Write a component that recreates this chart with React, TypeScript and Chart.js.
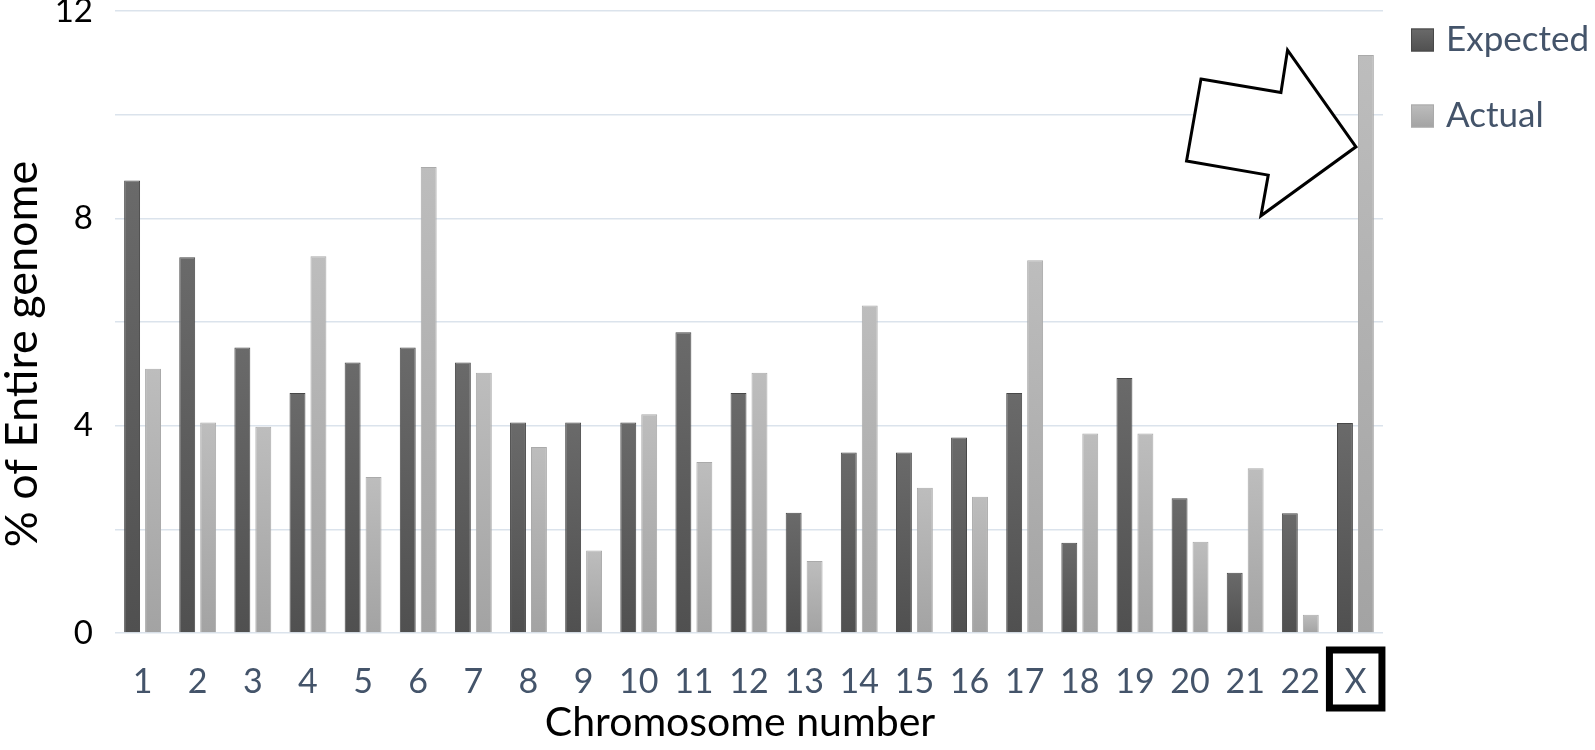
import React, { useEffect, useRef } from "react";
import { Chart, registerables } from "chart.js";

Chart.register(...registerables);

const categories = ["1", "2", "3", "4", "5", "6", "7", "8", "9", "10", "11", "12", "13", "14", "15", "16", "17", "18", "19", "20", "21", "22", "X"];
const expectedValues = [8.73, 7.25, 5.51, 4.63, 5.22, 5.51, 5.22, 4.06, 4.06, 4.06, 5.8, 4.63, 2.32, 3.48, 3.48, 3.77, 4.63, 1.74, 4.92, 2.6, 1.16, 2.31, 4.05];
const actualValues = [5.1, 4.06, 3.98, 7.27, 3.01, 8.99, 5.02, 3.59, 1.59, 4.22, 3.3, 5.02, 1.39, 6.32, 2.8, 2.63, 7.19, 3.85, 3.85, 1.76, 3.18, 0.35, 11.15];
const yTickLabels = [0, 4, 8, 12];
const seriesNames = ["Expected", "Actual"];
const xTitle = "Chromosome number";
const yTitle = "% of Entire genome";
const highlightedCategory = "X";

const FONT = "Lato, 'Open Sans', sans-serif";
const TICK_BLUE = "#44546a";

const seriesStyles = [
  { top: "#6a6a6a", bottom: "#505050", border: "#484848" },
  { top: "#bdbdbd", bottom: "#a3a3a3", border: "#aaaaaa" },
];

function barGradient(c: any, idx: number) {
  const chart = c.chart;
  const st = seriesStyles[idx];
  const ys = chart.scales && chart.scales.y;
  if (!ys || c.parsed == null || !chart.chartArea) return st.top;
  const top = ys.getPixelForValue(c.parsed.y);
  const base = ys.getPixelForValue(0);
  if (!isFinite(top) || !isFinite(base) || top === base) return st.top;
  const g = chart.ctx.createLinearGradient(0, top, 0, base);
  g.addColorStop(0, st.top);
  g.addColorStop(1, st.bottom);
  return g;
}

const decorPlugin = {
  id: "decor",
  afterDraw(chart: any) {
    const { ctx, chartArea, scales } = chart;
    const xs = scales.x;
    const ys = scales.y;
    ctx.save();

    // y axis title
    ctx.save();
    ctx.translate(22, 354);
    ctx.rotate(-Math.PI / 2);
    ctx.font = `45px ${FONT}`;
    ctx.fillStyle = "#000000";
    ctx.textAlign = "center";
    ctx.textBaseline = "middle";
    ctx.fillText(yTitle, 0, 0);
    ctx.restore();

    // x axis title
    ctx.font = `41px ${FONT}`;
    ctx.fillStyle = "#000000";
    ctx.textAlign = "center";
    ctx.textBaseline = "alphabetic";
    ctx.fillText(xTitle, 740, 736);

    // legend
    const lx = chartArea.right + 28;
    const rows = [40, 116];
    chart.data.datasets.forEach((ds: any, i: number) => {
      const cy = rows[i];
      const st = seriesStyles[i];
      const g = ctx.createLinearGradient(0, cy - 11.5, 0, cy + 11.5);
      g.addColorStop(0, st.top);
      g.addColorStop(1, st.bottom);
      ctx.fillStyle = g;
      ctx.fillRect(lx, cy - 11.5, 23, 23);
      ctx.strokeStyle = st.border;
      ctx.lineWidth = 1;
      ctx.strokeRect(lx + 0.5, cy - 11, 22, 22);
      ctx.font = `35px ${FONT}`;
      ctx.fillStyle = TICK_BLUE;
      ctx.textAlign = "left";
      ctx.textBaseline = "middle";
      ctx.fillText(ds.label, lx + 35, cy);
    });

    // box around highlighted category label
    const hi = categories.indexOf(highlightedCategory);
    const bx = xs.getPixelForValue(hi);
    ctx.strokeStyle = "#000000";
    ctx.lineWidth = 7;
    ctx.strokeRect(bx - 26, 650, 52.5, 58);

    // arrow pointing to the highlighted Actual bar
    const meta = chart.getDatasetMeta(1);
    const bar = meta.data[hi];
    if (bar) {
      const tipX = bar.x - bar.width / 2 - 2;
      const tipY = ys.getPixelForValue(9.38);
      const shape = [
        [-155, -67.7],
        [-75, -54.4],
        [-68.4, -96.7],
        [0, 0],
        [-95, 69],
        [-87.7, 28.3],
        [-169.4, 14.3],
      ];
      ctx.beginPath();
      shape.forEach(([dx, dy], i) => {
        if (i === 0) ctx.moveTo(tipX + dx, tipY + dy);
        else ctx.lineTo(tipX + dx, tipY + dy);
      });
      ctx.closePath();
      ctx.fillStyle = "#ffffff";
      ctx.fill();
      ctx.lineWidth = 3;
      ctx.lineJoin = "miter";
      ctx.strokeStyle = "#000000";
      ctx.stroke();
    }
    ctx.restore();
  },
};

export default function App() {
  const canvasRef = useRef<HTMLCanvasElement | null>(null);

  useEffect(() => {
    document.body.style.margin = "0";
    const canvas = canvasRef.current;
    if (!canvas) return;
    const chart = new Chart(canvas, {
      type: "bar",
      data: {
        labels: categories,
        datasets: [
          {
            label: seriesNames[0],
            data: expectedValues,
            backgroundColor: (c: any) => barGradient(c, 0),
            borderColor: seriesStyles[0].border,
            borderWidth: 1,
            barPercentage: 0.76,
            categoryPercentage: 0.76,
          },
          {
            label: seriesNames[1],
            data: actualValues,
            backgroundColor: (c: any) => barGradient(c, 1),
            borderColor: seriesStyles[1].border,
            borderWidth: 1,
            barPercentage: 0.76,
            categoryPercentage: 0.76,
          },
        ],
      },
      options: {
        responsive: false,
        animation: false,
        layout: {
          autoPadding: false,
          padding: { left: 0, right: 212, top: 11, bottom: 0 },
        },
        plugins: {
          legend: { display: false },
          tooltip: { enabled: false },
          title: { display: false },
        },
        scales: {
          x: {
            grid: { display: false, drawTicks: false },
            border: { display: false },
            ticks: {
              color: TICK_BLUE,
              font: { family: FONT, size: 34 },
              padding: 29,
              maxRotation: 0,
              autoSkip: false,
            },
            afterFit: (s: any) => {
              s.height = 117;
              s.paddingLeft = 0;
              s.paddingRight = 0;
            },
          },
          y: {
            min: 0,
            max: 12,
            grid: { color: "#dbe3ec", lineWidth: 1.6, drawTicks: false },
            border: { display: false },
            ticks: {
              stepSize: 2,
              color: "#000000",
              font: { family: FONT, size: 33 },
              padding: 22,
              callback: (v: any) => (yTickLabels.includes(Number(v)) ? String(v) : ""),
            },
            afterFit: (s: any) => {
              s.width = 115;
              s.paddingTop = 0;
              s.paddingBottom = 0;
            },
          },
        },
      },
      plugins: [decorPlugin],
    });
    return () => chart.destroy();
  }, []);

  return (
    <div style={{ width: 1595, height: 750, background: "#ffffff" }}>
      <canvas ref={canvasRef} width={1595} height={750} style={{ display: "block" }} />
    </div>
  );
}
